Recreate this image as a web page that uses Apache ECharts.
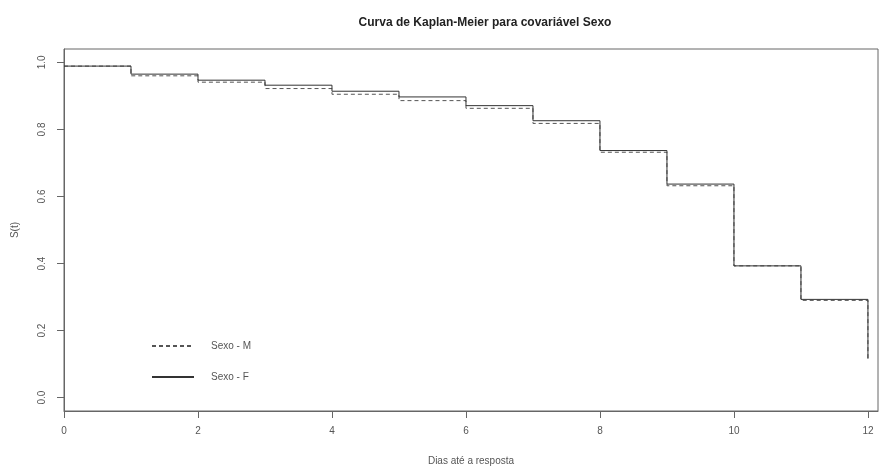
<!DOCTYPE html>
<html>
<head>
<meta charset="utf-8">
<script src="https://cdn.jsdelivr.net/npm/echarts@6/dist/echarts.min.js"></script>
<style>
html,body{margin:0;padding:0;background:#fff;}
#c{width:887px;height:466px;}
</style>
</head>
<body>
<div id="c"></div>
<script>
var titleText = "Curva de Kaplan-Meier para covariável Sexo";
var xName = "Dias até a resposta";
var yName = "S(t)";
var times = [0, 1, 2, 3, 4, 5, 6, 7, 8, 9, 10, 11, 12];
var survM = [0.989, 0.960, 0.941, 0.922, 0.905, 0.886, 0.863, 0.818, 0.732, 0.632, 0.393, 0.290, 0.116];
var survF = [0.989, 0.965, 0.947, 0.932, 0.914, 0.897, 0.871, 0.826, 0.737, 0.637, 0.393, 0.293, 0.116];
var seriesNames = ["Sexo - M", "Sexo - F"];
var xTicks = [0, 2, 4, 6, 8, 10, 12];
var yTicks = [0, 0.2, 0.4, 0.6, 0.8, 1.0];

function pairs(vals) {
  return times.map(function (t, i) { return [t, vals[i]]; });
}

var chart = echarts.init(document.getElementById('c'), null, {renderer: 'canvas'});
var font = '"Liberation Sans", Arial, sans-serif';
chart.setOption({
  animation: false,
  backgroundColor: '#fff',
  title: {
    text: titleText,
    left: 480, textAlign: 'center', top: 12,
    textStyle: {fontFamily: font, fontSize: 12, fontWeight: 'bold', color: '#222'}
  },
  legend: {
    orient: 'vertical',
    left: 146, top: 336,
    itemWidth: 42, itemHeight: 12, itemGap: 21,
    data: seriesNames,
    itemStyle: {color: 'transparent', borderColor: 'transparent', borderWidth: 0},
    textStyle: {fontFamily: font, fontSize: 10, color: '#555', padding: [0, 0, 0, 12]}
  },
  grid: {
    left: 64, right: 9, top: 49, bottom: 55,
    outerBoundsMode: 'none', containLabel: false,
    show: true, borderColor: '#666', borderWidth: 1, backgroundColor: 'transparent'
  },
  xAxis: {
    type: 'value', min: 0, max: 12.15,
    name: xName, nameLocation: 'middle', nameGap: 45,
    nameTextStyle: {fontFamily: font, fontSize: 10, color: '#555'},
    axisLine: {show: true, onZero: false, lineStyle: {color: '#666'}},
    splitLine: {show: false},
    axisTick: {show: true, length: 7, customValues: xTicks, lineStyle: {color: '#666'}},
    axisLabel: {customValues: xTicks, margin: 15, fontFamily: font, fontSize: 10, color: '#555'}
  },
  yAxis: {
    type: 'value', min: -0.04, max: 1.04,
    name: yName, nameLocation: 'middle', nameGap: 44, nameRotate: 90,
    nameTextStyle: {fontFamily: font, fontSize: 10, color: '#555'},
    axisLine: {show: true, onZero: false, lineStyle: {color: '#666'}},
    splitLine: {show: false},
    axisTick: {show: true, length: 7, customValues: yTicks, lineStyle: {color: '#666'}},
    axisLabel: {
      customValues: yTicks, rotate: 90, margin: 17,
      fontFamily: font, fontSize: 10, color: '#555',
      formatter: function (v) { return v.toFixed(1); }
    }
  },
  series: [
    {
      name: seriesNames[0], type: 'line', step: 'end', symbol: 'none',
      data: pairs(survM),
      lineStyle: {color: '#555', width: 1, type: [4, 3]},
      itemStyle: {color: '#555'}
    },
    {
      name: seriesNames[1], type: 'line', step: 'end', symbol: 'none',
      data: pairs(survF),
      lineStyle: {color: '#333', width: 1, type: 'solid'},
      itemStyle: {color: '#333'}
    }
  ]
});
</script>
</body>
</html>
